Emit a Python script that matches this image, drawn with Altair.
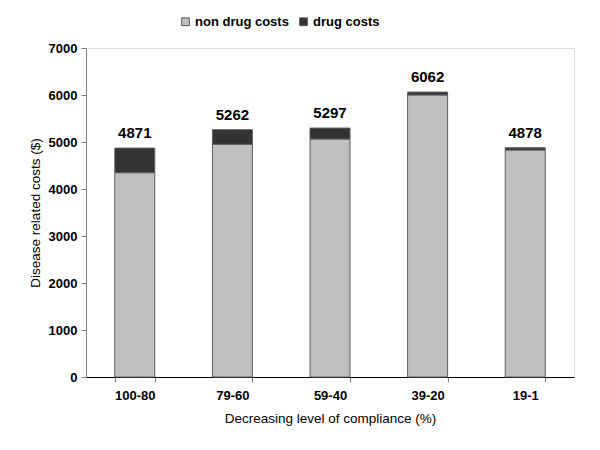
import altair as alt
import pandas as pd

categories = ["100-80", "79-60", "59-40", "39-20", "19-1"]
non_drug = [4347, 4951, 5064, 6000, 4830]
drug = [524, 311, 233, 62, 48]
totals = [4871, 5262, 5297, 6062, 4878]
series = ["non drug costs", "drug costs"]
colors = ["#C0C0C0", "#333333"]

rows = []
for c, a, b in zip(categories, non_drug, drug):
    rows.append({"cat": c, "series": series[0], "value": a, "ord": 0})
    rows.append({"cat": c, "series": series[1], "value": b, "ord": 1})
df = pd.DataFrame(rows)
tot_df = pd.DataFrame({"cat": categories, "total": totals})

FONT = "Liberation Sans"

x_enc = alt.X(
    "cat:N", sort=categories,
    scale=alt.Scale(paddingInner=0.59, paddingOuter=0.295),
    axis=alt.Axis(
        title="Decreasing level of compliance (%)", labelAngle=0,
        tickBand="extent", tickSize=5, tickColor="#808080",
        domainColor="#000000", labelFont=FONT, labelFontSize=13,
        labelFontWeight="bold", labelColor="#000", labelPadding=7,
        titleFont=FONT, titleFontSize=13.5, titleFontWeight=500,
        titleColor="#000", titlePadding=9,
    ),
)

bars = alt.Chart(df).mark_bar(stroke="#606060", strokeWidth=1).encode(
    x=x_enc,
    y=alt.Y(
        "value:Q", stack="zero",
        scale=alt.Scale(domain=[0, 7000], nice=False),
        axis=alt.Axis(
            title="Disease related costs ($)", values=list(range(0, 7001, 1000)),
            format="d",
            grid=False, tickSize=5, tickColor="#808080", domainColor="#808080",
            labelFont=FONT, labelFontSize=13, labelFontWeight="bold",
            labelColor="#000", labelPadding=4,
            titleFont=FONT, titleFontSize=13.5, titleFontWeight=500,
            titleColor="#000", titlePadding=6,
        ),
    ),
    color=alt.Color(
        "series:N", scale=alt.Scale(domain=series, range=colors),
        legend=alt.Legend(
            title=None, orient="none", direction="horizontal",
            legendX=93, legendY=-33, symbolType="square", symbolSize=60,
            symbolStrokeColor="#555", symbolStrokeWidth=1,
            labelFont=FONT, labelFontSize=13, labelFontWeight="bold",
            labelColor="#000", columnPadding=8, labelOffset=3, padding=0,
        ),
    ),
    order=alt.Order("ord:Q"),
)

labels = alt.Chart(tot_df).mark_text(
    font=FONT, fontSize=15, fontWeight="bold", baseline="bottom", dy=-7,
    color="#000",
).encode(
    x=alt.X("cat:N", sort=categories),
    y=alt.Y("total:Q"),
    text=alt.Text("total:Q"),
)

chart = (bars + labels).properties(
    width=488, height=329,
    autosize=alt.AutoSizeParams(type="none"),
    padding={"left": 78, "top": 40, "right": 10, "bottom": 50},
).configure_view(stroke=None).configure(background="white")

chart.save("out.html", embed_options={"renderer": "svg", "actions": False})
